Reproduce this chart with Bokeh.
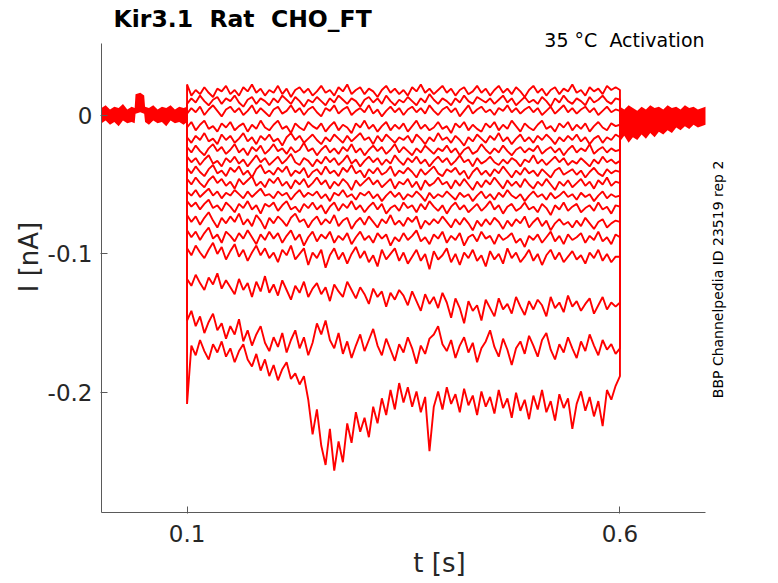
import numpy as np
from bokeh.plotting import figure
from bokeh.models import Range1d, FixedTicker, CustomJSTickFormatter, Label
from bokeh.embed import file_html
from bokeh.resources import INLINE

# step on / off times (s)
t_on = 0.1
t_off = 0.6

# axis limits (s, nA)
x_lo, x_hi = 0.0012, 0.6988
y_lo, y_hi = -0.2862, 0.0515

# holding current before the step, noise band edges (pA)
pre_t = [0.0012, 0.006, 0.011, 0.016, 0.021, 0.026, 0.031, 0.036, 0.0395, 0.0405,
         0.046, 0.0505, 0.0515, 0.056, 0.061, 0.066, 0.071, 0.076, 0.081, 0.086,
         0.091, 0.096, 0.1]
pre_hi = [5, 7, 4, 6, 5, 8, 4, 6, 5, 15, 16, 14, 6, 5, 7, 4, 6, 5, 7, 4, 6, 5, 6]
pre_lo = [-6, -4, -7, -5, -8, -4, -6, -5, -6, 1, 2, 1, -5, -7, -4, -6, -5, -8, -4, -6, -5, -7, -5]

# tail current after the step (pA)
post_t = [0.6, 0.605, 0.61, 0.615, 0.62, 0.625, 0.63, 0.635, 0.64, 0.645,
          0.65, 0.655, 0.66, 0.665, 0.67, 0.675, 0.68, 0.685, 0.69, 0.6988]
post_hi = [6, 4, 7, 5, 3, 6, 4, 7, 5, 6, 4, 7, 5, 6, 4, 7, 5, 6, 4, 6]
post_lo = [-19, -15, -20, -16, -18, -14, -17, -13, -16, -12,
           -14, -11, -13, -9, -11, -8, -10, -7, -9, -7]

# current during the step, one list per sweep, sampled every 5 ms from 0.1 to 0.6 s (pA)
sweep_01 = [22, 14, 18, 15, 20, 16, 13, 19, 17, 21,
            15, 18, 14, 20, 17, 22, 16, 19, 14, 18,
            16, 21, 15, 19, 13, 18, 20, 16, 19, 14,
            17, 21, 16, 18, 14, 20, 17, 22, 15, 18,
            20, 15, 19, 17, 13, 18, 21, 16, 19, 15,
            18, 14, 20, 17, 22, 16, 19, 15, 18, 21,
            16, 19, 14, 18, 20, 15, 17, 21, 16, 19,
            14, 18, 21, 16, 19, 15, 20, 17, 13, 18,
            21, 16, 19, 14, 18, 20, 15, 19, 17, 22,
            16, 18, 14, 20, 17, 19, 15, 21, 18, 20, 18]
sweep_02 = [8, 12, 9, 14, 10, 7, 11, 13, 8, 12,
            10, 14, 9, 6, 11, 13, 8, 12, 10, 7,
            12, 9, 14, 11, 8, 13, 10, 6, 11, 9,
            13, 10, 7, 12, 9, 14, 11, 8, 12, 10,
            6, 11, 13, 9, 12, 8, 14, 10, 7, 11,
            9, 13, 10, 7, 12, 9, 15, 11, 8, 12,
            10, 7, 12, 9, 14, 10, 8, 13, 11, 9,
            12, 8, 11, 14, 9, 12, 7, 10, 13, 9,
            11, 8, 13, 10, 6, 12, 9, 14, 10, 8,
            12, 10, 7, 13, 9, 11, 14, 10, 8, 12, 11]
sweep_03 = [1, 5, 2, 6, 0, 4, 7, 3, -1, 4,
            6, 2, 5, 0, 3, 7, 1, 5, 2, -1,
            4, 6, 1, 3, 7, 2, 5, 0, 4, 6,
            2, -1, 5, 3, 7, 1, 4, 6, 0, 3,
            5, 2, 7, 1, 4, -1, 3, 6, 2, 5,
            0, 4, 6, 2, 5, 1, 7, 3, 0, 4,
            6, 2, 5, -1, 3, 7, 1, 4, 6, 2,
            4, 0, 5, 3, 7, 2, 5, 1, 4, 6,
            2, 5, 0, 3, 6, 1, 4, 7, 2, 5,
            1, 4, 6, 2, 5, 0, 3, 6, 2, 4, 3]
sweep_04 = [-9, -5, -11, -7, -4, -10, -8, -12, -6, -9,
            -5, -11, -8, -6, -12, -7, -10, -4, -9, -11,
            -7, -4, -10, -8, -13, -6, -9, -11, -5, -8,
            -10, -6, -12, -8, -5, -11, -7, -9, -13, -6,
            -9, -4, -10, -7, -12, -8, -5, -11, -7, -10,
            -6, -12, -8, -4, -10, -7, -11, -9, -5, -10,
            -8, -13, -6, -9, -5, -11, -7, -10, -12, -6,
            -9, -5, -11, -7, -10, -4, -8, -12, -6, -9,
            -11, -7, -4, -10, -8, -12, -6, -9, -5, -11,
            -7, -10, -6, -12, -8, -5, -9, -11, -6, -8, -7]
sweep_05 = [-16, -20, -15, -18, -13, -19, -17, -21, -14, -18,
            -15, -20, -17, -13, -19, -16, -21, -15, -18, -14,
            -19, -17, -22, -16, -13, -18, -15, -20, -17, -14,
            -18, -21, -16, -19, -14, -17, -20, -15, -19, -16,
            -13, -18, -16, -21, -15, -19, -14, -17, -20, -16,
            -18, -15, -20, -14, -17, -21, -16, -19, -13, -18,
            -16, -20, -15, -18, -22, -16, -19, -14, -17, -20,
            -15, -18, -13, -19, -16, -21, -17, -14, -19, -16,
            -20, -15, -18, -14, -17, -21, -16, -19, -15, -18,
            -14, -19, -16, -21, -17, -15, -20, -16, -18, -14, -16]
sweep_06 = [-23, -27, -22, -26, -29, -24, -21, -26, -23, -28,
            -25, -21, -27, -24, -29, -23, -26, -22, -28, -25,
            -21, -26, -24, -28, -23, -27, -25, -20, -26, -24,
            -29, -25, -22, -27, -24, -28, -23, -26, -21, -27,
            -24, -29, -25, -22, -26, -23, -28, -25, -21, -27,
            -23, -26, -29, -24, -27, -22, -25, -28, -24, -26,
            -22, -27, -24, -29, -25, -23, -28, -26, -21, -25,
            -28, -24, -27, -22, -26, -29, -25, -23, -27, -24,
            -26, -22, -28, -25, -23, -27, -24, -29, -25, -22,
            -27, -24, -26, -21, -28, -25, -23, -27, -24, -26, -25]
sweep_07 = [-30, -34, -31, -36, -32, -29, -35, -33, -37, -31,
            -34, -30, -35, -32, -37, -33, -29, -34, -31, -36,
            -33, -30, -35, -32, -28, -34, -36, -31, -33, -37,
            -32, -35, -30, -34, -31, -36, -33, -29, -35, -32,
            -37, -33, -30, -34, -31, -36, -32, -35, -29, -33,
            -36, -31, -34, -30, -35, -32, -37, -33, -30, -34,
            -31, -36, -33, -29, -34, -32, -37, -31, -35, -33,
            -30, -34, -36, -32, -35, -31, -33, -37, -32, -34,
            -29, -35, -32, -36, -33, -30, -34, -31, -36, -33,
            -35, -31, -34, -37, -32, -35, -30, -34, -32, -35, -33]
sweep_08 = [-38, -42, -37, -41, -44, -39, -36, -42, -40, -44,
            -38, -41, -37, -43, -40, -45, -39, -36, -42, -40,
            -43, -38, -41, -37, -44, -40, -42, -38, -45, -41,
            -39, -43, -37, -42, -40, -44, -38, -41, -36, -42,
            -40, -45, -39, -42, -38, -43, -41, -37, -44, -40,
            -42, -38, -41, -45, -39, -43, -40, -37, -42, -44,
            -39, -41, -38, -43, -40, -46, -41, -38, -43, -40,
            -44, -39, -42, -37, -41, -45, -40, -43, -38, -42,
            -40, -44, -39, -42, -45, -40, -38, -43, -41, -39,
            -43, -40, -45, -41, -38, -42, -44, -39, -42, -40, -41]
sweep_09 = [-46, -50, -45, -49, -52, -47, -44, -49, -46, -51,
            -48, -53, -46, -50, -47, -44, -51, -48, -52, -46,
            -49, -45, -51, -48, -53, -47, -50, -46, -52, -49,
            -45, -50, -47, -53, -48, -51, -46, -49, -54, -47,
            -51, -48, -45, -50, -47, -52, -49, -46, -53, -48,
            -50, -46, -52, -48, -54, -47, -51, -49, -45, -50,
            -48, -53, -47, -51, -46, -50, -54, -48, -52, -47,
            -50, -45, -49, -53, -47, -51, -48, -52, -46, -50,
            -53, -48, -51, -46, -50, -54, -48, -51, -47, -52,
            -49, -46, -51, -48, -53, -47, -50, -45, -51, -48, -49]
sweep_10 = [-55, -58, -54, -59, -56, -53, -58, -55, -60, -56,
            -58, -54, -57, -60, -55, -59, -56, -53, -58, -57,
            -60, -55, -58, -56, -61, -57, -54, -59, -56, -58,
            -55, -60, -57, -62, -56, -58, -54, -59, -57, -61,
            -56, -58, -55, -60, -57, -62, -58, -55, -59, -56,
            -61, -57, -59, -55, -58, -62, -56, -60, -57, -59,
            -55, -58, -61, -56, -59, -57, -62, -58, -55, -60,
            -57, -61, -56, -59, -54, -58, -60, -57, -62, -58,
            -55, -59, -57, -61, -56, -60, -58, -55, -59, -57,
            -61, -56, -59, -57, -62, -58, -55, -60, -57, -59, -58]
sweep_11 = [-62, -66, -63, -68, -64, -61, -67, -65, -69, -63,
            -66, -70, -64, -67, -62, -68, -65, -71, -64, -66,
            -63, -69, -65, -62, -68, -66, -70, -64, -67, -63,
            -68, -65, -71, -66, -63, -69, -64, -67, -62, -68,
            -65, -70, -66, -63, -68, -64, -71, -67, -65, -69,
            -63, -67, -65, -70, -64, -68, -62, -66, -69, -65,
            -71, -66, -63, -68, -65, -70, -67, -64, -69, -66,
            -62, -68, -65, -71, -66, -64, -69, -67, -63, -68,
            -66, -70, -64, -67, -72, -65, -68, -63, -69, -66,
            -64, -70, -67, -65, -69, -63, -68, -66, -71, -65, -66]
sweep_12 = [-72, -77, -73, -79, -74, -70, -76, -81, -74, -78,
            -73, -77, -71, -79, -75, -80, -72, -76, -82, -74,
            -78, -73, -76, -80, -74, -71, -77, -75, -81, -76,
            -73, -79, -75, -78, -72, -80, -76, -74, -82, -77,
            -74, -79, -73, -77, -81, -75, -78, -72, -79, -76,
            -80, -74, -77, -73, -82, -76, -79, -75, -78, -73,
            -77, -81, -75, -79, -74, -78, -83, -76, -80, -75,
            -79, -74, -77, -82, -76, -80, -75, -78, -73, -81,
            -77, -74, -80, -76, -83, -78, -75, -79, -77, -81,
            -76, -80, -74, -78, -82, -77, -75, -81, -78, -76, -77]
sweep_13 = [-83, -88, -84, -90, -85, -81, -89, -86, -92, -84,
            -87, -91, -85, -89, -83, -88, -93, -86, -90, -84,
            -89, -85, -92, -87, -83, -90, -86, -94, -88, -84,
            -91, -86, -89, -84, -92, -87, -90, -85, -93, -88,
            -84, -90, -87, -92, -85, -89, -86, -94, -88, -91,
            -85, -90, -87, -83, -91, -88, -93, -86, -89, -84,
            -92, -87, -90, -85, -94, -88, -86, -91, -84, -89,
            -87, -93, -86, -90, -88, -85, -92, -89, -95, -87,
            -90, -86, -92, -88, -84, -91, -87, -93, -86, -90,
            -88, -85, -92, -87, -90, -84, -91, -88, -93, -86, -88]
sweep_14 = [-96, -101, -94, -99, -103, -97, -92, -100, -95, -104,
            -98, -93, -102, -97, -105, -99, -94, -101, -96, -103,
            -99, -106, -97, -101, -94, -104, -100, -96, -108, -99,
            -103, -97, -110, -101, -96, -104, -99, -107, -100, -95,
            -103, -98, -106, -101, -109, -97, -104, -100, -96, -105,
            -99, -107, -102, -97, -105, -100, -111, -98, -104, -101,
            -96, -106, -100, -108, -99, -103, -97, -105, -101, -109,
            -98, -104, -100, -107, -96, -103, -99, -106, -102, -97,
            -105, -100, -108, -101, -97, -104, -99, -106, -102, -98,
            -104, -101, -107, -99, -103, -97, -105, -100, -106, -102, -102]
sweep_15 = [-118, -123, -115, -121, -126, -117, -122, -114, -125, -119,
            -124, -129, -118, -126, -121, -131, -120, -127, -116, -128,
            -122, -130, -119, -126, -133, -123, -128, -120, -131, -125,
            -121, -129, -124, -134, -122, -127, -131, -120, -126, -132,
            -124, -129, -136, -125, -131, -127, -138, -128, -133, -126,
            -130, -137, -127, -134, -141, -129, -136, -131, -139, -128,
            -135, -146, -132, -139, -150, -134, -141, -137, -148, -133,
            -139, -145, -132, -140, -136, -143, -131, -138, -144, -134,
            -140, -133, -137, -145, -131, -139, -135, -142, -130, -138,
            -134, -141, -136, -132, -143, -137, -131, -140, -135, -138, -135]
sweep_16 = [-148, -141, -152, -145, -157, -149, -143, -155, -150, -161,
            -152, -158, -147, -163, -155, -166, -158, -152, -164, -170,
            -160, -167, -157, -171, -162, -155, -168, -160, -173, -164,
            -150, -158, -148, -162, -168, -157, -172, -163, -175, -166,
            -158, -170, -162, -154, -166, -173, -161, -169, -177, -165,
            -171, -160, -168, -179, -166, -172, -161, -158, -152, -165,
            -170, -162, -175, -166, -160, -171, -164, -178, -168, -163,
            -155, -167, -174, -161, -169, -180, -168, -163, -172, -159,
            -166, -174, -162, -157, -169, -176, -165, -171, -160, -168,
            -175, -163, -170, -158, -166, -173, -162, -169, -165, -172, -168]
sweep_17 = [-208, -166, -173, -162, -170, -176, -165, -171, -163, -174,
            -168, -178, -170, -165, -176, -181, -172, -184, -176, -188,
            -180, -191, -183, -178, -190, -186, -194, -188, -205, -230,
            -212, -238, -252, -226, -256, -235, -250, -222, -236, -214,
            -228, -218, -232, -210, -222, -204, -216, -198, -212, -193,
            -207, -196, -210, -199, -214, -203, -242, -210, -199, -212,
            -196, -208, -201, -214, -197, -209, -202, -216, -199, -210,
            -203, -215, -198, -211, -204, -218, -200, -213, -205, -219,
            -202, -212, -198, -214, -206, -220, -201, -211, -204, -226,
            -208, -199, -213, -203, -217, -206, -224, -198, -205, -195, -188]

sweeps = [sweep_01, sweep_02, sweep_03, sweep_04, sweep_05, sweep_06,
          sweep_07, sweep_08, sweep_09, sweep_10, sweep_11, sweep_12,
          sweep_13, sweep_14, sweep_15, sweep_16, sweep_17]

x_ticks = [0.1, 0.6]
y_ticks = [-0.2, -0.1, 0]

# frame is stretched past the axes so the texts around them are not clipped
px_x = 865.8   # px per s
px_y = 1389.0  # px per nA
p = figure(width=778, height=583, output_backend="svg", toolbar_location=None,
           x_range=Range1d(x_lo - 1 / px_x, x_hi + 73 / px_x),
           y_range=Range1d(y_lo - 1 / px_y, y_hi + 43 / px_y),
           min_border_left=100, min_border_right=0, min_border_top=0,
           min_border_bottom=70)
p.outline_line_color = None
p.grid.visible = False
p.background_fill_color = "white"
p.border_fill_color = "white"

# baseline noise before and after the step
p.varea(x=pre_t, y1=np.array(pre_lo) / 1000, y2=np.array(pre_hi) / 1000, color="red")
p.varea(x=post_t, y1=np.array(post_lo) / 1000, y2=np.array(post_hi) / 1000, color="red")

xs, ys = [], []
for s in sweeps:
    t = np.linspace(t_on, t_off, len(s))
    xs.append([t_on] + list(t) + [t_off])
    ys.append([0] + [v / 1000 for v in s] + [0])
p.multi_line(xs, ys, color="red", line_width=1.9)

# axis spines only over the data limits
p.segment(x0=[x_lo, x_lo], y0=[y_lo, y_lo], x1=[x_lo, x_hi], y1=[y_hi, y_lo],
          color="#5a5a5a", line_width=1)

fmt = CustomJSTickFormatter(code="return Math.abs(tick) < 1e-9 ? '0' : tick.toFixed(1)")
for ax, ticks in ((p.xaxis, x_ticks), (p.yaxis, y_ticks)):
    ax.ticker = FixedTicker(ticks=ticks)
    ax.formatter = fmt
    ax.axis_line_color = None
    ax.major_tick_line_color = "#5a5a5a"
    ax.major_tick_in = 7
    ax.major_tick_out = 0
    ax.minor_tick_line_color = None
    ax.major_label_text_font = "DejaVu Sans"
    ax.major_label_text_font_size = "23px"
    ax.major_label_text_color = "#262626"
    ax.axis_label_text_font = "DejaVu Sans"
    ax.axis_label_text_font_size = "26px"
    ax.axis_label_text_font_style = "normal"
    ax.axis_label_text_color = "#262626"
p.xaxis.axis_label = "t [s]"
p.yaxis.axis_label = "I [nA]"
p.xaxis.major_label_standoff = 11
p.xaxis.axis_label_standoff = 3
p.yaxis.major_label_standoff = 8
p.yaxis.axis_label_standoff = 1

nb = "\u00a0"
labels = [
    ("Kir3.1" + nb * 2 + "Rat" + nb * 2 + "CHO_FT", 0.0151, 0.0690, "left", "alphabetic", 0, "23.5px", "bold"),
    ("35 \u00b0C" + nb * 2 + "Activation", 0.6977, 0.0540, "right", "alphabetic", 0, "19px", "normal"),
    ("BBP Channelpedia ID 23519 rep 2", 0.7127, -0.1184, "center", "middle", np.pi / 2, "14px", "normal"),
]
for txt, x, y, align, base, ang, size, style in labels:
    p.add_layout(Label(x=x, y=y, text=txt, text_align=align, text_baseline=base,
                       angle=ang, text_font="DejaVu Sans", text_font_size=size,
                       text_font_style=style, text_color="black"))

open("out.html", "w").write(file_html(p, INLINE))
